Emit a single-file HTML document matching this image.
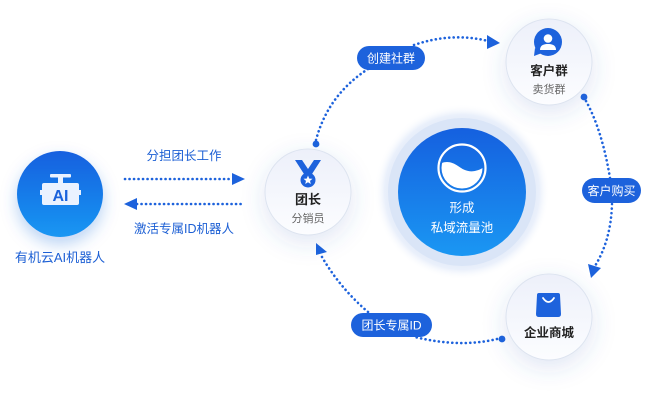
<!DOCTYPE html>
<html><head><meta charset="utf-8">
<style>
html,body{margin:0;padding:0;background:#fff;}
svg{display:block;}
text{font-family:"Liberation Sans","Noto Sans CJK SC",sans-serif;}
</style></head>
<body>
<svg width="650" height="400" viewBox="0 0 650 400" xmlns="http://www.w3.org/2000/svg">
<defs>
  <linearGradient id="gBlue" x1="0" y1="0" x2="0" y2="1">
    <stop offset="0" stop-color="#1560df"/>
    <stop offset="1" stop-color="#1a97f3"/>
  </linearGradient>
  <linearGradient id="gNode" x1="0" y1="0" x2="0" y2="1">
    <stop offset="0" stop-color="#edf0fa"/>
    <stop offset="1" stop-color="#fcfdff"/>
  </linearGradient>
  <radialGradient id="gHalo" cx="0.5" cy="0.5" r="0.5">
    <stop offset="0.75" stop-color="#dfe8f8"/>
    <stop offset="0.88" stop-color="#eaf0fb"/>
    <stop offset="1" stop-color="#ffffff" stop-opacity="0"/>
  </radialGradient>
  <filter id="sh2" x="-60%" y="-60%" width="220%" height="220%">
    <feGaussianBlur in="SourceAlpha" stdDeviation="8" result="b"/>
    <feOffset in="b" dy="7" result="o"/>
    <feFlood flood-color="#1a5fd6" flood-opacity="0.28" result="c"/>
    <feComposite in="c" in2="o" operator="in" result="s"/>
    <feMerge><feMergeNode in="s"/><feMergeNode in="SourceGraphic"/></feMerge>
  </filter>
  <filter id="shN" x="-80%" y="-80%" width="260%" height="260%">
    <feGaussianBlur in="SourceAlpha" stdDeviation="12" result="b"/>
    <feOffset in="b" dy="7" result="o"/>
    <feFlood flood-color="#3a62b8" flood-opacity="0.16" result="c"/>
    <feComposite in="c" in2="o" operator="in" result="s"/>
    <feMerge><feMergeNode in="s"/><feMergeNode in="SourceGraphic"/></feMerge>
  </filter>
  <clipPath id="waterClip"><circle cx="462" cy="168" r="20.5"/></clipPath>
</defs>

<!-- AI robot -->
<circle cx="60" cy="194" r="43" fill="url(#gBlue)" filter="url(#sh2)"/>
<g fill="#eaf2ff">
  <rect x="50" y="174" width="21" height="3.5" rx="1"/>
  <rect x="58" y="176" width="5" height="8"/>
  <rect x="42" y="183" width="37" height="22" rx="2"/>
  <rect x="40" y="190" width="3" height="5"/>
  <rect x="78" y="190" width="3" height="5"/>
</g>
<text x="60.5" y="201" text-anchor="middle" font-size="16" font-weight="bold" fill="#1a62dc">AI</text>
<text x="60" y="262" text-anchor="middle" font-size="13" fill="#1c5fd4">有机云AI机器人</text>

<!-- horizontal arrows -->
<text x="184" y="160" text-anchor="middle" font-size="12.5" fill="#1c5fd4">分担团长工作</text>
<path d="M125,179 L232,179" stroke="#1d62dc" stroke-width="2.6" stroke-dasharray="0.1 4.4" stroke-linecap="round" fill="none"/>
<polygon points="232,173 245,179 232,185" fill="#1d62dc"/>
<path d="M137,204 L245,204" stroke="#1d62dc" stroke-width="2.6" stroke-dasharray="0.1 4.4" stroke-linecap="round" fill="none"/>
<polygon points="124,204 137,198 137,210" fill="#1d62dc"/>
<text x="184" y="233" text-anchor="middle" font-size="12.5" fill="#1c5fd4">激活专属ID机器人</text>

<!-- center pool -->
<circle cx="462" cy="192" r="88" fill="url(#gHalo)"/>
<circle cx="462" cy="192" r="74" fill="#dae5f7"/>
<circle cx="462" cy="192" r="64" fill="url(#gBlue)"/>
<circle cx="462" cy="168" r="23.5" fill="none" stroke="#ffffff" stroke-width="2.2"/>
<g clip-path="url(#waterClip)">
  <path d="M436,167 C443,160 451,161 458,166 C465,171 473,175 486,166 L486,195 L436,195 Z" fill="#ffffff"/>
</g>
<text x="462" y="212" text-anchor="middle" font-size="12.5" fill="#ffffff">形成</text>
<text x="462" y="232" text-anchor="middle" font-size="12.5" fill="#ffffff">私域流量池</text>

<!-- dotted connectors -->
<g stroke="#1d62dc" stroke-width="2.6" stroke-dasharray="0.1 4.4" stroke-linecap="round" fill="none">
  <path d="M316,140 Q328,95 368,69"/>
  <path d="M414,45 Q452,32 488,41"/>
  <path d="M586,101 Q602,130 610,178"/>
  <path d="M612,204 Q611,240 595,266"/>
  <path d="M497,339 Q460,348 415,337"/>
  <path d="M368,312 Q340,288 322,257"/>
</g>
<circle cx="316" cy="144" r="3.4" fill="#1d62dc"/>
<circle cx="584" cy="97" r="3.4" fill="#1d62dc"/>
<circle cx="502" cy="339" r="3.4" fill="#1d62dc"/>
<polygon points="500,43 487,35 487,49" fill="#1d62dc"/>
<polygon points="591,278 588,264 601,268" fill="#1d62dc"/>
<polygon points="316,243 327,252 316,255" fill="#1d62dc"/>

<!-- pills -->
<rect x="357" y="46" width="68" height="24" rx="12" fill="#1d62dc"/>
<text x="391" y="62.5" text-anchor="middle" font-size="12" fill="#ffffff">创建社群</text>
<rect x="582" y="178" width="59" height="25" rx="12.5" fill="#1d62dc"/>
<text x="611.5" y="195" text-anchor="middle" font-size="12" fill="#ffffff">客户购买</text>
<rect x="351" y="313" width="81" height="24" rx="12" fill="#1d62dc"/>
<text x="391.5" y="329.5" text-anchor="middle" font-size="12" fill="#ffffff">团长专属ID</text>

<!-- node: 团长 -->
<circle cx="308" cy="192" r="43" fill="url(#gNode)" stroke="#dde4f0" stroke-width="1" filter="url(#shN)"/>
<path d="M295,160 L302,160 L308,169 L314,160 L321,160 L312,174 L304,174 Z" fill="#1d62dc"/>
<circle cx="308" cy="180" r="7.5" fill="#1d62dc"/>
<polygon points="308,175.5 309.3,178.6 312.5,178.8 310,180.9 310.8,184 308,182.3 305.2,184 306,180.9 303.5,178.8 306.7,178.6" fill="#ffffff"/>
<text x="308" y="204" text-anchor="middle" font-size="13" font-weight="bold" fill="#222">团长</text>
<text x="308" y="222" text-anchor="middle" font-size="11" fill="#666">分销员</text>

<!-- node: 客户群 -->
<circle cx="549" cy="62" r="43" fill="url(#gNode)" stroke="#dde4f0" stroke-width="1" filter="url(#shN)"/>
<circle cx="548" cy="42" r="14" fill="#1d62dc"/>
<path d="M535,48 L534,56 L542,53 Z" fill="#1d62dc"/>
<circle cx="548" cy="38.5" r="4.3" fill="#ffffff"/>
<path d="M540,50 C540,45 544,44 548,44 C552,44 556,45 556,50 Z" fill="#ffffff"/>
<text x="549" y="75" text-anchor="middle" font-size="12.5" font-weight="bold" fill="#222">客户群</text>
<text x="549" y="93" text-anchor="middle" font-size="11" fill="#666">卖货群</text>

<!-- node: 企业商城 -->
<circle cx="549" cy="317" r="43" fill="url(#gNode)" stroke="#dde4f0" stroke-width="1" filter="url(#shN)"/>
<path d="M539,293 L558,293 Q560,293 560,295 L561,314 Q561,317 558,317 L539,317 Q536,317 536,314 L537,295 Q537,293 539,293 Z" fill="#1d62dc"/>
<path d="M543,298 Q548.5,306 554,298" stroke="#ffffff" stroke-width="1.8" fill="none" stroke-linecap="round"/>
<text x="549" y="337" text-anchor="middle" font-size="12.5" font-weight="bold" fill="#222">企业商城</text>
</svg>
</body></html>
